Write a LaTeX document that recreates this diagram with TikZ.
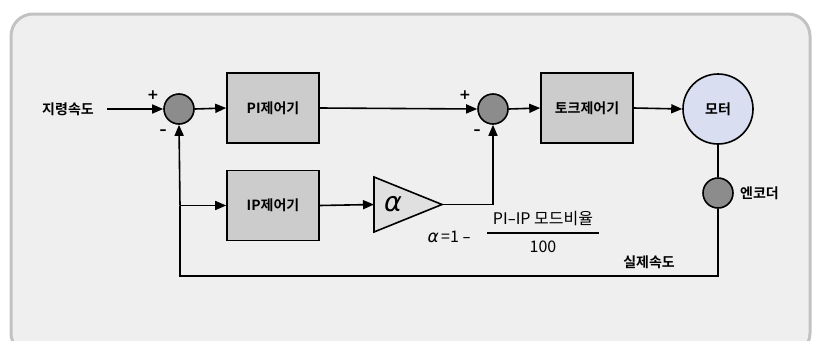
\documentclass[tikz,border=0pt]{standalone}
\usepackage{fontspec}
\setmainfont{Noto Sans CJK KR}[BoldFont=* Bold]
\newfontfamily\grkfont{DejaVu Sans}
\usetikzlibrary{arrows.meta}
\definecolor{panelfill}{HTML}{EFEFEF}
\definecolor{panelborder}{HTML}{C2C2C2}
\definecolor{boxfill}{HTML}{CCCCCC}
\definecolor{sumfill}{HTML}{8C8C8C}
\definecolor{motorfill}{HTML}{D9DEF0}
\definecolor{trifill}{HTML}{E0E0E0}
\tikzset{
  x=1pt, y=-1pt,
  txt/.style={font=\fontsize{14}{16}\selectfont\bfseries},
  blk/.style={draw=black, line width=1.6pt, fill=boxfill, minimum width=92pt, minimum height=70pt, inner sep=0pt, txt},
  sumnode/.style={circle, draw=black, line width=1.6pt, fill=sumfill, minimum size=30pt, inner sep=0pt},
  lbl/.style={txt, inner sep=0pt},
  sgn/.style={font=\fontsize{14}{16}\selectfont\grkfont\bfseries, inner sep=0pt},
  wire/.style={line width=1.6pt},
  arr/.style={line width=1.6pt, -{Triangle[length=11pt,width=9pt]}},
}
\begin{document}
\begin{tikzpicture}
\useasboundingbox (0,0) rectangle (818,340);
\clip (0,0) rectangle (818,340);
\fill[white] (0,0) rectangle (818,340);
\draw[panelborder, line width=3pt, fill=panelfill, rounded corners=22pt] (11,14) rectangle (810,355);

% nodes
\node[lbl] (ref) at (68,109) {지령속도};
\node[sumnode] (s1) at (179,109) {};
\node[blk] (pi) at (273,108) {PI제어기};
\node[blk] (ip) at (273,205.5) {IP제어기};
\node[sumnode] (s2) at (493,109) {};
\node[blk] (tq) at (587,108) {토크제어기};
\node[circle, draw=black, line width=1.6pt, fill=motorfill, minimum size=70pt, inner sep=0pt, txt] (mot) at (718,109) {모터};
\node[sumnode] (enc) at (718,193) {};
\node[lbl, anchor=west] (enclbl) at (740,193) {엔코더};
\node[lbl] (act) at (649,262) {실제속도};

% triangle gain
\draw[line width=1.6pt, fill=trifill] (374,177) -- (442,204.5) -- (374,232) -- cycle;
\coordinate (triL) at (374,204.5);
\coordinate (triR) at (442,204.5);
\node[inner sep=0pt, font=\fontsize{27}{29}\selectfont\grkfont\itshape] (alph) at (393,204) {α};

% signs
\node[sgn] (p1) at (153,95) {+};
\node[sgn] (m1) at (163,132) {–};
\node[sgn] (p2) at (465,95) {+};
\node[sgn] (m2) at (477,132) {–};

% formula
\node[inner sep=0pt, font=\fontsize{17}{19}\selectfont\grkfont\itshape, anchor=east] (falpha) at (439,238) {α};
\node[inner sep=0pt, font=\fontsize{16}{18}\selectfont, anchor=west] (feq) at (441,237) {=1 {\grkfont –}};
\node[inner sep=0pt, font=\fontsize{16}{18}\selectfont] (num) at (543,219) {PI{\grkfont –}IP 모드비율};
\node[inner sep=0pt, font=\fontsize{16}{18}\selectfont] (den) at (543,247) {100};
\coordinate (fl1) at (487,233);
\coordinate (fl2) at (599,233);
\draw[line width=1.2pt] (fl1) -- (fl2);

% connectors
\coordinate (refout) at (107,109);
\draw[arr] (refout) -- (s1.west);
\draw[arr] (s1.east) -- (pi.west);
\draw[arr] (pi.east) -- (s2.west);
\draw[arr] (s2.east) -- (tq.west);
\draw[arr] (tq.east) -- (mot.west);
\draw[wire] (mot.south) -- (enc.north);
\coordinate (fbR) at (718,276);
\coordinate (fbL) at (180,276);
\coordinate (br) at (180,205.5);
\draw[wire] (enc.south) -- (fbR) -- (fbL) -- (br);
\draw[arr] (br) -- (s1.south);
\draw[arr] (br) -- (ip.west);
\draw[arr] (ip.east) -- (triL);
\coordinate (corner2) at (493,204.5);
\draw[arr] (triR) -- (corner2) -- (s2.south);
\end{tikzpicture}
\end{document}
